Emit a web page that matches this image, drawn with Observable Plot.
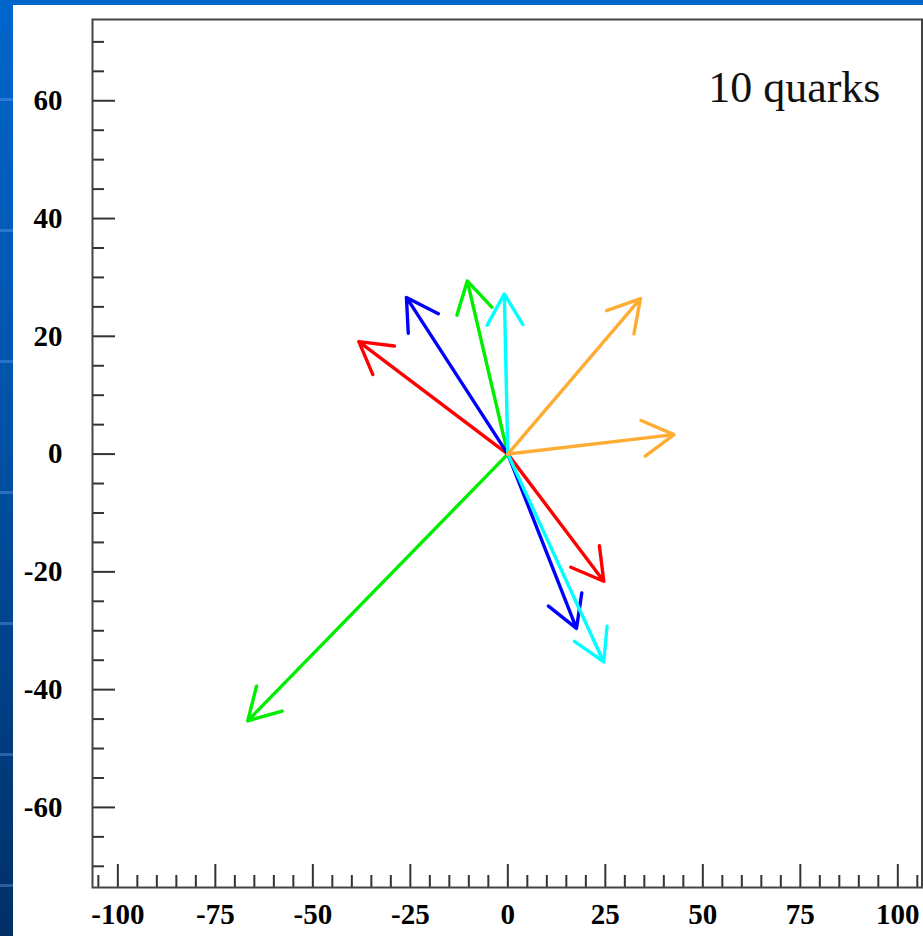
<!DOCTYPE html>
<html>
<head>
<meta charset="utf-8">
<script src="https://cdn.jsdelivr.net/npm/d3@7"></script>
<script src="https://cdn.jsdelivr.net/npm/@observablehq/plot@0.6"></script>
<style>
  html, body { margin: 0; padding: 0; width: 923px; height: 936px; overflow: hidden; }
  body {
    position: relative;
    background:
      repeating-linear-gradient(to bottom, transparent 0px, transparent 98px, rgba(120,170,255,0.35) 98px, rgba(120,170,255,0.35) 101px, transparent 101px, transparent 131px),
      linear-gradient(to bottom, #0066cc 0%, #0052a8 45%, #002f66 100%);
  }
  #panel { position: absolute; left: 13px; top: 5px; width: 910px; height: 931px; background: #fff; }
  #panel svg { display: block; }
</style>
</head>
<body>
<div id="panel"></div>
<script>
// Quark momentum components (arrow tips)
const quarkPx = [-66.7, -10.4, -38.2, 24.6, -26.0, 17.6, -0.9, 24.6, 34.0, 42.6];
const quarkPy = [-45.3, 29.4, 19.1, -21.6, 26.6, -29.6, 27.2, -35.3, 26.4, 3.3];
const quarkColors = ["#00ee00", "#00ee00", "#ff0000", "#ff0000", "#0000ff", "#0000ff", "#00ffff", "#00ffff", "#ffac33", "#ffac33"];

// Axis ticks
const yMajorTicks = [-60, -40, -20, 0, 20, 40, 60];
const yMinorTicks = [-70, -65, -55, -50, -45, -35, -30, -25, -15, -10, -5, 5, 10, 15, 25, 30, 35, 45, 50, 55, 65, 70];
const xMajorTicks = [-100, -75, -50, -25, 0, 25, 50, 75, 100];
const xMinorTicks = [-105, -95, -90, -85, -80, -70, -65, -60, -55, -45, -40, -35, -30, -20, -15, -10, -5,
                     5, 10, 15, 20, 30, 35, 40, 45, 55, 60, 65, 70, 80, 85, 90, 95, 105];
const titleText = ["10 quarks"];

const quarks = quarkPx.map((px, i) => ({px, py: quarkPy[i], color: quarkColors[i]}));

const labelFont = {fontFamily: "'Liberation Serif', 'Times New Roman', serif", fontWeight: "bold", fontSize: 29, fill: "#000"};

const chart = Plot.plot({
  width: 910,
  height: 931,
  marginLeft: 79,
  marginTop: 14,
  marginRight: 1.5,
  marginBottom: 49,
  x: {domain: [-106.5, 106.2]},
  y: {domain: [-73.6, 73.8]},
  color: {type: "identity"},
  style: {background: "white", overflow: "visible"},
  marks: [
    // inward ticks
    Plot.axisY(yMinorTicks, {tickSize: -12, fill: "none", stroke: "#333", strokeWidth: 2, label: null}),
    Plot.axisY(yMajorTicks, {tickSize: -23, fill: "none", stroke: "#333", strokeWidth: 2, label: null}),
    Plot.axisX(xMinorTicks, {tickSize: -12, fill: "none", stroke: "#333", strokeWidth: 2, label: null}),
    Plot.axisX(xMajorTicks, {tickSize: -23, fill: "none", stroke: "#333", strokeWidth: 2, label: null}),
    // tick labels
    Plot.axisY(yMajorTicks, {tickSize: 0, tickPadding: 30, stroke: "none", label: null, tickFormat: d => String(d), ...labelFont}),
    Plot.axisX(xMajorTicks, {tickSize: 0, tickPadding: 16, stroke: "none", label: null, tickFormat: d => String(d), ...labelFont}),
    Plot.frame({stroke: "#444", strokeWidth: 2}),
    Plot.arrow(quarks, {
      x1: d => 0, y1: d => 0, x2: "px", y2: "py",
      stroke: "color", strokeWidth: 3.4, headLength: 15.8, headAngle: 60
    }),
    Plot.text(titleText, {
      frameAnchor: "top-right", textAnchor: "end", lineAnchor: "top",
      dx: -41.5, dy: 51, fontSize: 44, fill: "#111",
      fontFamily: "'Liberation Serif', 'Times New Roman', serif"
    })
  ]
});
document.getElementById("panel").appendChild(chart);
</script>
</body>
</html>
